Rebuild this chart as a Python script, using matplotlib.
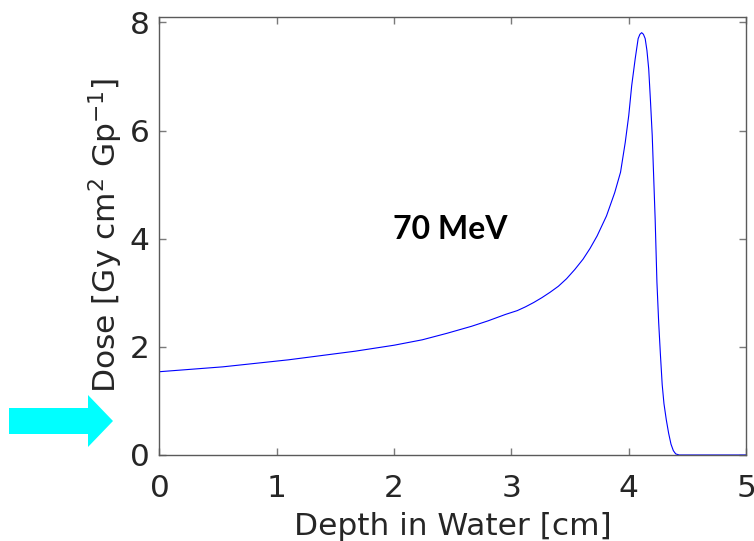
import numpy as np
import matplotlib
matplotlib.use("Agg")
import matplotlib.pyplot as plt
from matplotlib.patches import FancyArrow

# depth-dose curve
depth = [0.0, 0.54, 1.10, 1.67, 2.0, 2.24, 2.45, 2.66, 2.80, 2.95, 3.05,
         3.12, 3.19, 3.26, 3.33, 3.40, 3.47, 3.54, 3.61, 3.67, 3.73, 3.81,
         3.88, 3.93, 3.97, 4.0, 4.025, 4.055, 4.08, 4.095, 4.11, 4.125,
         4.14, 4.155, 4.17, 4.185, 4.2, 4.225, 4.24, 4.255, 4.27, 4.285,
         4.3, 4.32, 4.34, 4.36, 4.38, 4.4, 4.43, 5.0]
dose = [1.54, 1.63, 1.76, 1.92, 2.03, 2.13, 2.25, 2.38, 2.48, 2.60, 2.67,
        2.74, 2.82, 2.91, 3.01, 3.12, 3.26, 3.43, 3.62, 3.82, 4.05, 4.42,
        4.85, 5.23, 5.78, 6.28, 6.83, 7.33, 7.70, 7.78, 7.81, 7.78, 7.70,
        7.48, 7.14, 6.55, 5.91, 4.36, 3.2, 2.45, 1.85, 1.3, 0.95, 0.65,
        0.40, 0.20, 0.08, 0.02, 0.0, 0.0]
x_ticks = [0, 1, 2, 3, 4, 5]
y_ticks = [0, 2, 4, 6, 8]
energy_label = "70 MeV"

plt.rcParams['font.family'] = ['DejaVu Sans']

fig = plt.figure(figsize=(7.54, 5.41), dpi=100)
ax = fig.add_axes([0.2115, 0.159, 0.778, 0.8096])

ax.plot(depth, dose, color=(0, 0, 1), lw=0.8)
ax.set_xlim(0, 5)
ax.set_ylim(0, 8.1)
ax.set_xticks(x_ticks)
ax.set_yticks(y_ticks)

for sp in ax.spines.values():
    sp.set_color('#5a5a5a')
    sp.set_linewidth(1.0)
ax.tick_params(direction='in', length=5, width=1.0, color='#7a7a7a',
               top=True, right=True, labelsize=22.5, labelcolor='#262626')
ax.tick_params(axis='x', pad=14)
ax.tick_params(axis='y', pad=7)

ax.set_xlabel("Depth in Water [cm]", fontsize=22.5, color='#262626', labelpad=6)
ax.set_ylabel(r"Dose [Gy cm$^2$ Gp$^{-1}$]", fontsize=22.5, color='#262626')
ax.yaxis.set_label_coords(-0.058, 0.5)

ax.text(2.48, 4.17, energy_label, fontsize=23, fontweight='bold',
        family=['Lato', 'DejaVu Sans'], ha='center', va='center')

# cyan pointer arrow at the left
fig.patches.append(FancyArrow(0.09, 1.20, 1.04, 0.0, width=0.26,
                              head_width=0.52, head_length=0.25,
                              length_includes_head=True, color='#00ffff',
                              lw=0, transform=fig.dpi_scale_trans,
                              figure=fig))

fig.savefig("out.png", dpi=100)
